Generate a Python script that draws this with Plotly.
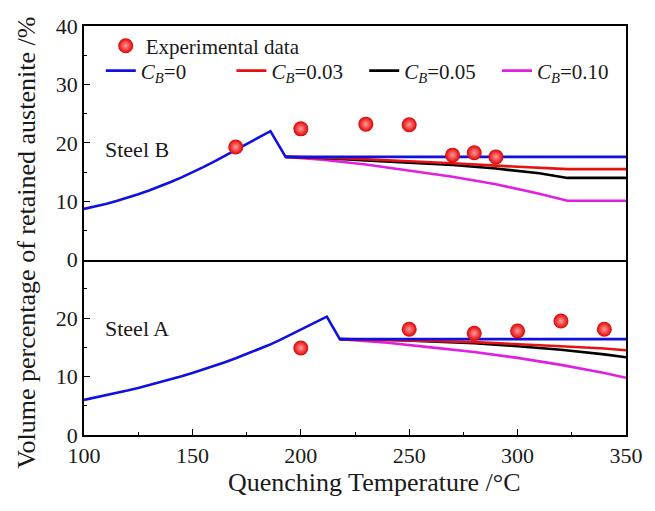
import plotly.graph_objects as go
from plotly.subplots import make_subplots

# ---------------- data ----------------
# Steel B (upper panel)
b_exp_x = [170, 200, 230, 250, 270, 280, 290]
b_exp_y = [19.3, 22.4, 23.2, 23.1, 17.9, 18.3, 17.6]

b_c0_x = [100, 105, 110, 115, 120, 125, 130, 135, 140, 145, 150, 155, 160, 165, 170, 175, 180, 186, 193, 350]
b_c0_y = [8.7, 9.1, 9.55, 10.05, 10.6, 11.2, 11.85, 12.55, 13.3, 14.1, 14.95, 15.85, 16.8, 17.8, 18.8,
          19.8, 20.8, 22.0, 17.6, 17.6]

b_cb_x = [193, 210, 230, 250, 270, 290, 310, 323, 350]
b_c003_y = [17.6, 17.5, 17.2, 16.9, 16.5, 16.1, 15.8, 15.5, 15.5]
b_c005_y = [17.6, 17.4, 17.0, 16.6, 16.2, 15.6, 14.8, 14.0, 14.0]
b_c010_y = [17.6, 17.1, 16.3, 15.3, 14.2, 12.9, 11.3, 10.1, 10.1]

# Steel A (lower panel)
a_exp_x = [200, 250, 280, 300, 320, 340]
a_exp_y = [14.9, 18.1, 17.4, 17.8, 19.5, 18.1]

a_c0_x = [100, 105, 110, 115, 120, 125, 130, 135, 140, 145, 150, 155, 160, 165, 170, 175, 180, 185, 190,
          195, 200, 205, 210, 212, 218, 350]
a_c0_y = [6.0, 6.37, 6.76, 7.17, 7.6, 8.05, 8.52, 9.01, 9.52, 10.05, 10.6, 11.18, 11.8, 12.45, 13.13,
          13.84, 14.58, 15.35, 16.2, 17.1, 18.0, 18.95, 19.9, 20.25, 16.4, 16.4]

a_cb_x = [218, 240, 260, 280, 300, 320, 340, 350]
a_c003_y = [16.4, 16.3, 16.1, 15.9, 15.6, 15.2, 14.8, 14.5]
a_c005_y = [16.4, 16.3, 16.0, 15.7, 15.2, 14.6, 13.8, 13.3]
a_c010_y = [16.4, 15.8, 15.0, 14.2, 13.2, 12.0, 10.6, 9.8]

series_names = ["<i>C<sub>B</sub></i>=0", "<i>C<sub>B</sub></i>=0.03",
                "<i>C<sub>B</sub></i>=0.05", "<i>C<sub>B</sub></i>=0.10"]
series_colors = ["#1010e0", "#e81010", "#000000", "#e020e0"]

x_ticks = [100, 150, 200, 250, 300, 350]
top_y_ticks = [0, 10, 20, 30, 40]
bot_y_ticks = [0, 10, 20]

FONT = "Times New Roman, Liberation Serif, serif"
TXT = "#1a1a1a"

fig = make_subplots(rows=2, cols=1, shared_xaxes=True, vertical_spacing=0,
                    row_heights=[4 / 7, 3 / 7])

marker = dict(size=15, color="#e00000", line=dict(width=0),
              gradient=dict(type="radial", color="#ff9a9a"))
LW = 2.6

# upper panel curves
fig.add_trace(go.Scatter(x=b_cb_x, y=b_c010_y, mode="lines", line=dict(color=series_colors[3], width=LW),
                         name=series_names[3], legend="legend5"), row=1, col=1)
fig.add_trace(go.Scatter(x=b_cb_x, y=b_c005_y, mode="lines", line=dict(color=series_colors[2], width=LW),
                         name=series_names[2], legend="legend4"), row=1, col=1)
fig.add_trace(go.Scatter(x=b_cb_x, y=b_c003_y, mode="lines", line=dict(color=series_colors[1], width=LW),
                         name=series_names[1], legend="legend3"), row=1, col=1)
fig.add_trace(go.Scatter(x=b_c0_x, y=b_c0_y, mode="lines", line=dict(color=series_colors[0], width=LW),
                         name=series_names[0], legend="legend2"), row=1, col=1)
fig.add_trace(go.Scatter(x=b_exp_x, y=b_exp_y, mode="markers", marker=marker,
                         name="Experimental data", legend="legend"), row=1, col=1)

# lower panel curves
fig.add_trace(go.Scatter(x=a_cb_x, y=a_c010_y, mode="lines", line=dict(color=series_colors[3], width=LW),
                         showlegend=False), row=2, col=1)
fig.add_trace(go.Scatter(x=a_cb_x, y=a_c005_y, mode="lines", line=dict(color=series_colors[2], width=LW),
                         showlegend=False), row=2, col=1)
fig.add_trace(go.Scatter(x=a_cb_x, y=a_c003_y, mode="lines", line=dict(color=series_colors[1], width=LW),
                         showlegend=False), row=2, col=1)
fig.add_trace(go.Scatter(x=a_c0_x, y=a_c0_y, mode="lines", line=dict(color=series_colors[0], width=LW),
                         showlegend=False), row=2, col=1)
fig.add_trace(go.Scatter(x=a_exp_x, y=a_exp_y, mode="markers", marker=marker,
                         showlegend=False), row=2, col=1)

axis_common = dict(showline=True, linecolor="black", linewidth=1.5,
                   showgrid=False, zeroline=False,
                   tickfont=dict(family=FONT, size=22, color=TXT))

fig.update_xaxes(range=[100, 350], **axis_common)
fig.update_xaxes(row=1, col=1, ticks="", showticklabels=False, mirror=True)
fig.update_xaxes(row=2, col=1, ticks="inside", ticklen=6, tickwidth=1.3, tickcolor="black",
                 tickvals=x_ticks, mirror=False,
                 minor=dict(ticks="inside", ticklen=3.5, tickwidth=1.2, tickcolor="black", dtick=25, tick0=100))
fig.update_yaxes(ticks="inside", ticklen=6, tickwidth=1.3, tickcolor="black", mirror=True, **axis_common)
fig.update_yaxes(row=1, col=1, range=[0, 40], tickvals=top_y_ticks,
                 minor=dict(ticks="inside", ticklen=3.5, tickwidth=1.2, tickcolor="black", dtick=5, tick0=0))
fig.update_yaxes(row=2, col=1, range=[0, 30], tickvals=bot_y_ticks,
                 minor=dict(ticks="inside", ticklen=3.5, tickwidth=1.2, tickcolor="black", dtick=5, tick0=0))

leg_font = dict(family=FONT, size=21, color=TXT)
def leg(xp, yp):
    return dict(x=xp, y=yp, xanchor="left", yanchor="middle", bgcolor="rgba(0,0,0,0)",
                borderwidth=0, font=leg_font, orientation="h")

fig.update_layout(
    width=655, height=511,
    margin=dict(l=84, r=20, t=26, b=76),
    paper_bgcolor="white", plot_bgcolor="white",
    font=dict(family=FONT, color=TXT),
    legend=leg(0.04, 0.951),
    legend2=leg(0.031, 0.89),
    legend3=leg(0.272, 0.89),
    legend4=leg(0.517, 0.89),
    legend5=leg(0.762, 0.89),
    annotations=[
        dict(text="Steel B", x=108.6, y=18.8, xref="x", yref="y", xanchor="left", yanchor="middle",
             showarrow=False, font=dict(family=FONT, size=22, color=TXT)),
        dict(text="Steel A", x=108.6, y=18.3, xref="x2", yref="y2", xanchor="left", yanchor="middle",
             showarrow=False, font=dict(family=FONT, size=22, color=TXT)),
        dict(text="Volume percentage of retained austenite /%", x=-0.105, y=0.47, xref="paper", yref="paper",
             xanchor="center", yanchor="middle", textangle=-90, showarrow=False,
             font=dict(family=FONT, size=26, color=TXT)),
        dict(text="Quenching Temperature /°C", x=0.536, y=-0.115, xref="paper", yref="paper",
             xanchor="center", yanchor="middle", showarrow=False,
             font=dict(family=FONT, size=26, color=TXT)),
    ],
)

fig.write_html("out.html")
